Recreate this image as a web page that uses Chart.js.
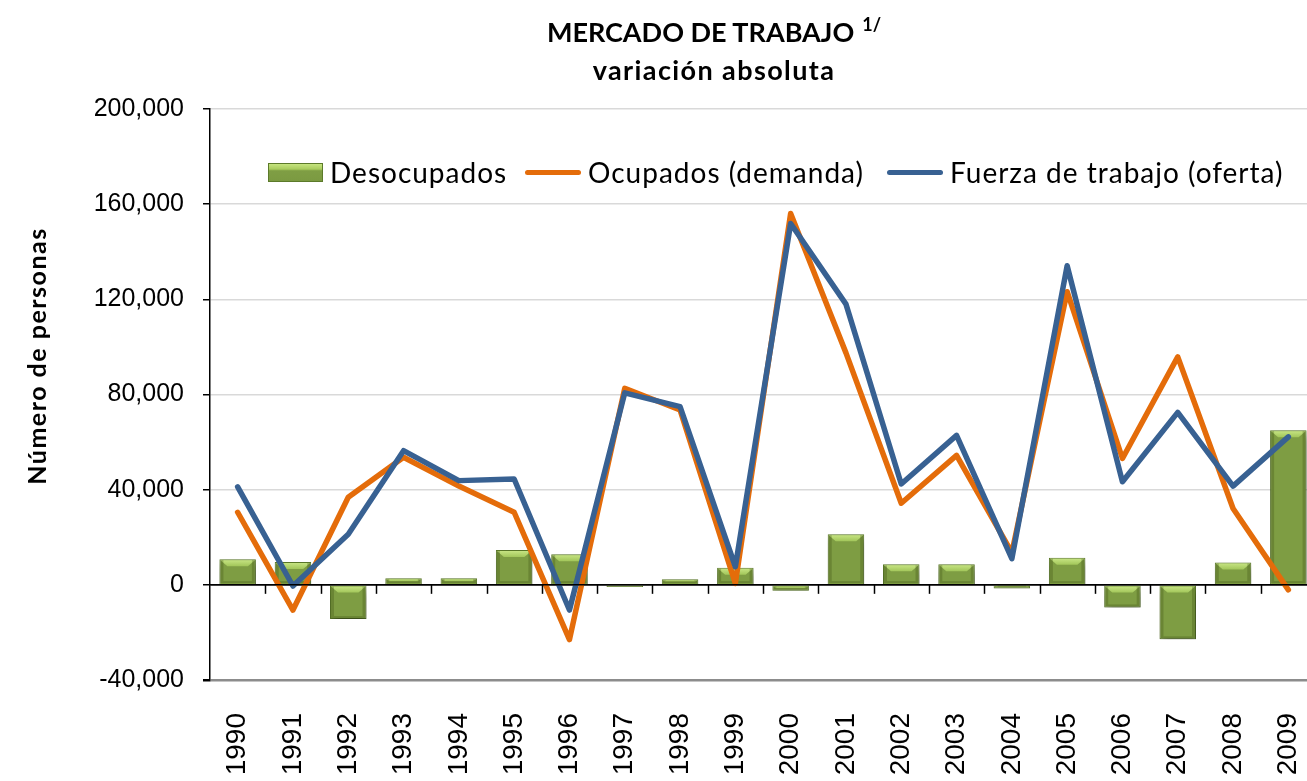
<!DOCTYPE html>
<html>
<head>
<meta charset="utf-8">
<script src="https://cdn.jsdelivr.net/npm/chart.js@4.4.1/dist/chart.umd.min.js"></script>
<style>
  body { margin: 0; background: #fff; }
  #wrap { position: relative; width: 1307px; height: 781px; overflow: hidden; }
  #chart { position: absolute; left: 0; top: 0; }
  .title {
    position: absolute; left: 714px; top: 13px; transform: translateX(-50%);
    text-align: center; font: bold 27px Lato, sans-serif; line-height: 38px;
    white-space: nowrap; color: #000;
  }
  .title sup { font-size: 18px; vertical-align: baseline; line-height: 0; position: relative; top: -11px; margin-left: 8px; }
  .title .l2 { letter-spacing: 1.4px; }
  .ytitle {
    position: absolute; left: -114px; top: 341px; width: 300px; height: 30px;
    transform: rotate(-90deg); text-align: center;
    font: bold 25px Lato, sans-serif; letter-spacing: 1.5px; line-height: 30px; color: #000; white-space: nowrap;
  }
  .legend-item { position: absolute; top: 155px; height: 34px; display: flex; align-items: center;
    font: 28px Lato, sans-serif; letter-spacing: 1px; color: #000; white-space: nowrap; }
  .swatch-bar { width: 55px; height: 19px; margin-right: 7px; box-sizing: border-box;
    border: 1px solid #5c7a2a;
    background: linear-gradient(to bottom, #c6e47f 0%, #a9cc5e 30%, #7f9e44 40%, #7b9a41 100%); }
  .swatch-line { width: 56px; height: 5px; border-radius: 3px; margin-right: 7px; }
</style>
</head>
<body>
<div id="wrap">
  <canvas id="chart" width="1316" height="781"></canvas>
  <div class="title">MERCADO DE TRABAJO<sup>1/</sup><br><span class="l2">variación absoluta</span></div>
  <div class="ytitle">Número de personas</div>
  <div class="legend-item" style="left:268px"><span class="swatch-bar"></span>Desocupados</div>
  <div class="legend-item" style="left:525px"><span class="swatch-line" style="background:#e46c0a"></span>Ocupados (demanda)</div>
  <div class="legend-item" style="left:887px"><span class="swatch-line" style="background:#386192"></span>Fuerza de trabajo (oferta)</div>
</div>
<script>
// datos
const years = ["1990", "1991", "1992", "1993", "1994", "1995", "1996", "1997", "1998", "1999",
               "2000", "2001", "2002", "2003", "2004", "2005", "2006", "2007", "2008", "2009"];
const desocupados = [10800, 9600, -14400, 2800, 2800, 14600, 12900, -900, 2300, 7200,
                     -2500, 21300, 8600, 8700, -1500, 11400, -9500, -22900, 9400, 65000];
const ocupados = [30500, -10600, 36800, 53600, 41500, 30500, -23000, 82600, 73500, 600,
                  156100, 97500, 34300, 54400, 13500, 123200, 53100, 95800, 32100, -2100];
const fuerzaTrabajo = [41200, -500, 21300, 56400, 43800, 44500, -10600, 80700, 74900, 7600,
                       151900, 118000, 42400, 62800, 11000, 134100, 43300, 72500, 41500, 62200];
const yTicks = [-40000, 0, 40000, 80000, 120000, 160000, 200000];

// sombra y bisel de las barras
const barStyle = {
  id: "barStyle",
  beforeDatasetDraw(chart, args) {
    if (args.index !== 2) return;
    const ctx = chart.ctx;
    ctx.save();
    ctx.shadowColor = "rgba(0,0,0,0.4)";
    ctx.shadowBlur = 8;
    ctx.shadowOffsetX = 2;
    ctx.shadowOffsetY = 5;
  },
  afterDatasetDraw(chart, args) {
    if (args.index !== 2) return;
    const ctx = chart.ctx;
    ctx.restore();
    const meta = chart.getDatasetMeta(2);
    meta.data.forEach((bar) => {
      const p = bar.getProps(["x", "y", "base", "width"], true);
      if (![p.x, p.y, p.base, p.width].every(Number.isFinite)) return;
      const top = Math.min(p.y, p.base);
      const bottom = Math.max(p.y, p.base);
      const left = p.x - p.width / 2;
      const right = p.x + p.width / 2;
      const h = Math.min(7, (bottom - top) / 2);
      if (h < 1) return;
      const g = ctx.createLinearGradient(0, top, 0, top + h);
      g.addColorStop(0, "#cbe888");
      g.addColorStop(1, "#a2c65a");
      ctx.save();
      ctx.beginPath();
      ctx.moveTo(left + 1, top + 1);
      ctx.lineTo(right - 1, top + 1);
      ctx.lineTo(right - 1 - h, top + h);
      ctx.lineTo(left + 1 + h, top + h);
      ctx.closePath();
      ctx.fillStyle = g;
      ctx.fill();
      // bordes oscuros
      ctx.fillStyle = "rgba(60,80,20,0.3)";
      ctx.fillRect(left + 1, top + 1, 3, bottom - top - 2);
      ctx.fillRect(right - 4, top + 1, 3, bottom - top - 2);
      ctx.fillRect(left + 4, bottom - 3, right - left - 8, 2);
      ctx.restore();
    });
  }
};

// marcas en la linea de cero entre categorias
const zeroTicks = {
  id: "zeroTicks",
  afterDraw(chart) {
    const x = chart.scales.x, y = chart.scales.y, ctx = chart.ctx;
    const half = (x.getPixelForValue(1) - x.getPixelForValue(0)) / 2;
    const y0 = y.getPixelForValue(0);
    ctx.save();
    ctx.strokeStyle = "#000";
    ctx.lineWidth = 1.5;
    for (let i = 1; i < years.length; i++) {
      const px = Math.round(x.getPixelForValue(i) - half) + 0.5;
      ctx.beginPath();
      ctx.moveTo(px, y0);
      ctx.lineTo(px, y0 + 9);
      ctx.stroke();
    }
    ctx.beginPath();
    ctx.moveTo(chart.chartArea.left, y0);
    ctx.lineTo(chart.chartArea.right, y0);
    ctx.stroke();
    ctx.restore();
  }
};

new Chart(document.getElementById("chart"), {
  data: {
    labels: years,
    datasets: [
      {
        type: "line",
        label: "Fuerza de trabajo (oferta)",
        data: fuerzaTrabajo,
        borderColor: "#386192",
        backgroundColor: "#386192",
        borderWidth: 5.5,
        pointRadius: 0,
        tension: 0,
        borderJoinStyle: "round",
        borderCapStyle: "round",
        order: 1
      },
      {
        type: "line",
        label: "Ocupados (demanda)",
        data: ocupados,
        borderColor: "#e46c0a",
        backgroundColor: "#e46c0a",
        borderWidth: 5.5,
        pointRadius: 0,
        tension: 0,
        borderJoinStyle: "round",
        borderCapStyle: "round",
        order: 2
      },
      {
        type: "bar",
        label: "Desocupados",
        data: desocupados,
        backgroundColor: "#7e9d43",
        borderColor: "#5c7a2a",
        borderWidth: 1,
        categoryPercentage: 0.66,
        barPercentage: 1,
        order: 3
      }
    ]
  },
  options: {
    responsive: false,
    animation: false,
    layout: { padding: { top: 109, left: 0, right: 0, bottom: 0 } },
    plugins: {
      legend: { display: false },
      title: { display: false },
      tooltip: { enabled: false }
    },
    scales: {
      x: {
        type: "category",
        offset: true,
        grid: { display: false, drawTicks: false },
        border: { display: false },
        ticks: {
          minRotation: 90,
          maxRotation: 90,
          padding: 33,
          color: "#000",
          font: { family: "Liberation Sans, Arial", size: 28 }
        },
        afterFit(s) { s.height = 101; s.paddingLeft = 0; s.paddingRight = 0; }
      },
      y: {
        min: -40000,
        max: 200000,
        afterBuildTicks(s) { s.ticks = yTicks.map((v) => ({ value: v })); },
        grid: {
          color(c) {
            if (c.tick.value === 0) return "#000";
            if (c.tick.value === -40000) return "#8c8c8c";
            return "#d9d9d9";
          },
          lineWidth(c) { return c.tick.value === -40000 ? 2.5 : 1.5; },
          tickColor: "#000",
          tickLength: 7
        },
        border: { display: true, color: "#000", width: 1.5 },
        ticks: {
          padding: 19,
          color: "#000",
          font: { family: "Liberation Sans, Arial", size: 25 },
          callback: (v) => v.toLocaleString("en-US")
        },
        afterFit(s) { s.width = 210; }
      }
    }
  },
  plugins: [barStyle, zeroTicks]
});
</script>
</body>
</html>
